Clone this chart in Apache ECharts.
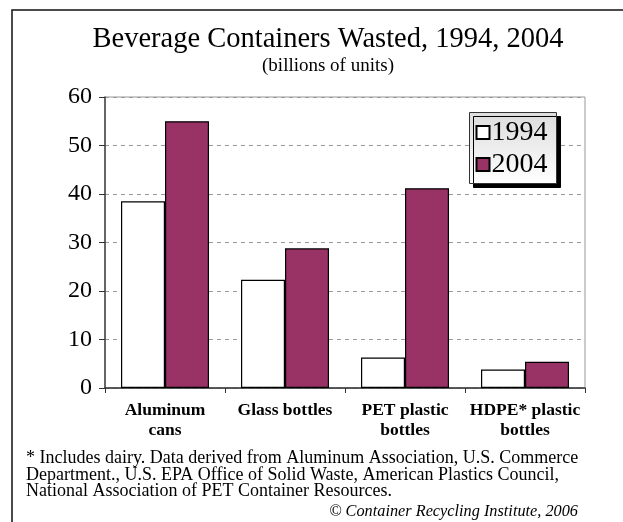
<!DOCTYPE html>
<html>
<head>
<meta charset="utf-8">
<script src="https://cdn.jsdelivr.net/npm/echarts@6/dist/echarts.min.js"></script>
<style>
  html, body { margin: 0; padding: 0; background: #fff; }
  #chart { width: 623px; height: 522px; }
</style>
</head>
<body>
<div id="chart"></div>
<script>
// Container types (x axis), wrapped as printed under the axis
const categories = ['Aluminum\ncans', 'Glass bottles', 'PET plastic\nbottles', 'HDPE* plastic\nbottles'];
// Billions of units wasted
const wasted1994 = [38.5, 22.3, 6.3, 3.8];
const wasted2004 = [55, 28.8, 41.2, 5.4];
const seriesNames = ['1994', '2004'];
// Value axis
const yMin = 0, yMax = 60, yStep = 10;

const titleText = 'Beverage Containers Wasted, 1994, 2004';
const subtitleText = '(billions of units)';
const footnoteLines = [
  '* Includes dairy. Data derived from Aluminum Association, U.S. Commerce',
  'Department., U.S. EPA Office of Solid Waste, American Plastics Council,',
  'National Association of PET Container Resources.'
];
const creditText = '\u00A9 Container Recycling Institute, 2006';

const serif = "'Liberation Serif', 'Times New Roman', Times, serif";

const chart = echarts.init(document.getElementById('chart'), null, { renderer: 'canvas' });

const footnoteGraphics = footnoteLines.map((line, i) => ({
  type: 'text',
  left: 26,
  top: 449 + i * 16.8,
  style: { text: line, font: '18px ' + serif, fill: '#000' }
}));

chart.setOption({
  backgroundColor: '#fff',
  animation: false,
  title: [
    {
      text: titleText,
      left: 323, top: 20, textAlign: 'center',
      textStyle: { fontFamily: serif, fontSize: 28.5, fontWeight: 'normal', color: '#000' }
    },
    {
      text: subtitleText,
      left: 323, top: 52, textAlign: 'center',
      textStyle: { fontFamily: serif, fontSize: 19, fontWeight: 'normal', color: '#000' }
    }
  ],
  legend: {
    orient: 'vertical',
    left: 469.5, top: 112.5,
    padding: [6, 9, 5, 6],
    itemGap: 4,
    itemWidth: 13, itemHeight: 13,
    icon: 'rect',
    data: seriesNames,
    textStyle: { fontFamily: serif, fontSize: 28, color: '#000', padding: [0, 0, 0, -3] },
    borderColor: '#333', borderWidth: 1,
    backgroundColor: {
      type: 'linear', x: 0, y: 0, x2: 0, y2: 1,
      colorStops: [{ offset: 0, color: '#dcdcdc' }, { offset: 1, color: '#ffffff' }]
    },
    shadowColor: '#000', shadowBlur: 0, shadowOffsetX: 4, shadowOffsetY: 4
  },
  grid: {
    left: 105, right: 38, top: 97, bottom: 134,
    show: true, borderColor: '#999', borderWidth: 1, backgroundColor: '#fff'
  },
  xAxis: {
    type: 'category',
    data: categories,
    axisLine: { lineStyle: { color: '#333', width: 1.5 } },
    axisTick: { show: true, length: 5, lineStyle: { color: '#333' } },
    axisLabel: {
      interval: 0, margin: 12, color: '#000',
      fontFamily: serif, fontSize: 17.5, fontWeight: 'bold', lineHeight: 20
    }
  },
  yAxis: {
    type: 'value',
    min: yMin, max: yMax, interval: yStep,
    axisLine: { show: true, lineStyle: { color: '#444', width: 1.5 } },
    axisTick: { show: true, length: 6, lineStyle: { color: '#333' } },
    axisLabel: { margin: 13, color: '#000', fontFamily: serif, fontSize: 24 },
    splitLine: { lineStyle: { color: '#999', type: [4, 4], width: 1 } }
  },
  series: [
    {
      name: seriesNames[0], type: 'bar', data: wasted1994,
      barWidth: 44, barGap: '0%',
      itemStyle: { color: '#ffffff', borderColor: '#000', borderWidth: 1.2 }
    },
    {
      name: seriesNames[1], type: 'bar', data: wasted2004,
      barWidth: 44, barGap: '0%',
      itemStyle: { color: '#993366', borderColor: '#000', borderWidth: 1.2 }
    }
  ],
  graphic: [
    {
      type: 'rect', silent: true, z: 100,
      shape: { x: 12, y: 10, width: 700, height: 600 },
      style: { fill: null, stroke: '#111', lineWidth: 1.5 }
    },
    ...footnoteGraphics,
    {
      type: 'text',
      right: 45,
      top: 504,
      style: { text: creditText, font: 'italic 16.3px ' + serif, fill: '#000' }
    }
  ]
});
</script>
</body>
</html>
